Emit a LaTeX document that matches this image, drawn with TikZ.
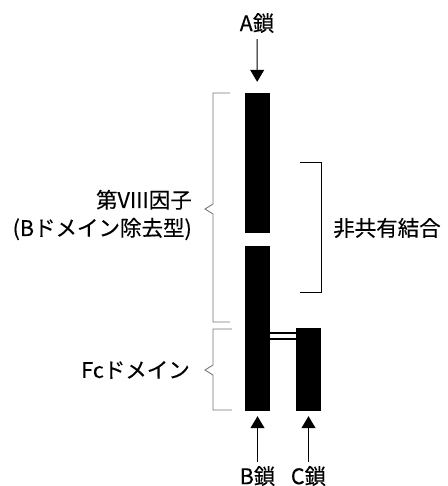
\documentclass[tikz,border=0pt]{standalone}
\usepackage{fontspec}
\setmainfont{Noto Sans CJK JP}
\usepackage{tikz}
\usetikzlibrary{positioning,arrows.meta,calc}
\definecolor{chaingray}{RGB}{120,120,120}
\tikzset{
  chainbar/.style={rectangle,draw=none,fill=black,minimum width=25pt,inner sep=0pt},
  lbl/.style={inner sep=0pt,font=\fontsize{21.5}{28}\selectfont\addfontfeatures{FakeBold=0.25}},
  brk/.style={draw=chaingray,line width=0.9pt},
  rbrk/.style={draw=black,line width=1pt},
  fl/.style={-{Triangle[length=12pt,width=14pt]},draw=black,line width=1pt},
  bond/.style={draw=black,double=white,double distance=4.5pt,line width=1.3pt},
}
\begin{document}
\begin{tikzpicture}[x=1pt,y=-1pt,node distance=8mm]
  \useasboundingbox (0,0) rectangle (447,486);
  % chains
  \node[chainbar,minimum height=140pt] (barA) at (257.5,163) {};
  \node[chainbar,minimum height=165pt] (barB) at (257.5,328.5) {};
  \node[chainbar,minimum height=83pt] (barC) at (308.5,369.5) {};
  % chain labels
  \node[lbl] (lblA) at (257,23) {A鎖};
  \node[lbl] (lblB) at (257.5,476) {B鎖};
  \node[lbl] (lblC) at (308.5,476) {C鎖};
  \draw[fl,shorten <=6pt,shorten >=11pt] (lblA) -- (barA);
  \draw[fl,shorten <=4pt,shorten >=5pt] (lblB) -- (barB);
  \draw[fl,shorten <=4pt,shorten >=5pt] (lblC) -- (barC);
  % bond between B and C
  \coordinate (bondY) at (0,336);
  \draw[bond] (barB.east |- bondY) -- (barC.west |- bondY);
  % braces
  \draw[brk] (230,93) -- (213,93) -- (213,204) -- (205,209) -- (213,214) -- (213,322) -- (230,322);
  \draw[brk] (232,329) -- (213,329) -- (213,365) -- (205,370) -- (213,375) -- (213,410) -- (232,410);
  \draw[rbrk] (300,163) -- (321,163) -- (321,292) -- (300,292);
  % domain labels
  \node[lbl,align=right,anchor=east] (lblF8) at (192,215) {第VIII因子\\(Bドメイン除去型)};
  \node[lbl,anchor=east] (lblFc) at (190,370) {Fcドメイン};
  \node[lbl,anchor=west] (lblNc) at (333,228) {非共有結合};
\end{tikzpicture}
\end{document}
